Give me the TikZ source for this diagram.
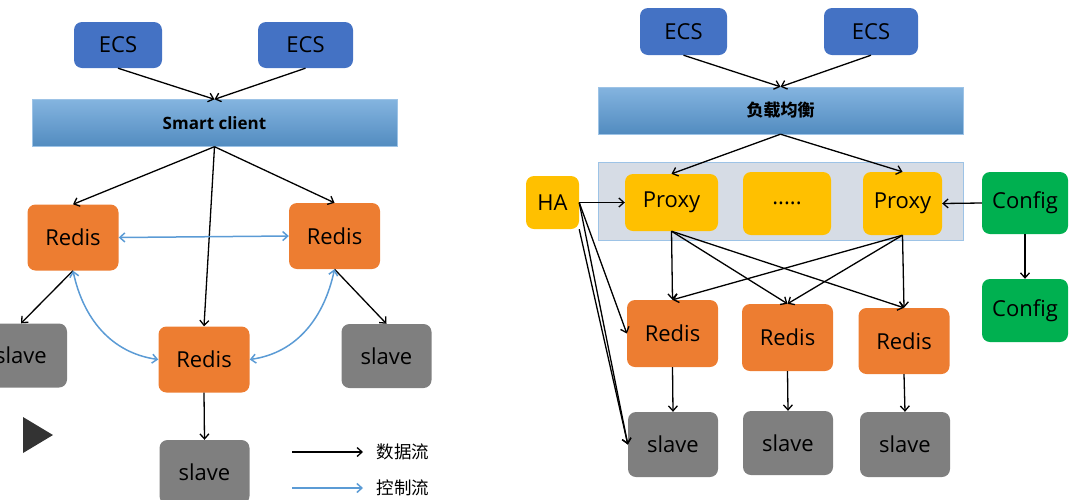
\documentclass[tikz,border=0pt]{standalone}
\usepackage{fontspec}
\setmainfont{Open Sans}
\newfontfamily\cjk{Noto Sans CJK SC}
\usepackage{tikz}
\usetikzlibrary{positioning,arrows.meta}
\usepackage{xcolor}
\definecolor{ecsblue}{HTML}{4472C4}
\definecolor{redisorange}{HTML}{ED7D31}
\definecolor{slavegray}{HTML}{7F7F7F}
\definecolor{proxyyellow}{HTML}{FFC000}
\definecolor{cfggreen}{HTML}{00B050}
\definecolor{ctrlblue}{HTML}{5B9BD5}
\definecolor{poolfill}{HTML}{D6DCE5}
\definecolor{poolline}{HTML}{9DC3E6}

\begin{document}
\begin{tikzpicture}[x=1pt,y=-1pt,
box/.style={rectangle,rounded corners=8pt,align=center,font=\fontsize{22}{26}\selectfont,inner sep=0pt},
ecs/.style={box,fill=ecsblue},
redis/.style={box,fill=redisorange,minimum width=91pt,minimum height=66pt},
slave/.style={box,fill=slavegray,minimum width=90pt,minimum height=64pt},
proxy/.style={box,fill=proxyyellow},
config/.style={box,fill=cfggreen,minimum width=86pt,minimum height=62pt},
bar/.style={rectangle,top color=ctrlblue!75!white,bottom color=ctrlblue!90!black,draw=ctrlblue!60!white,minimum width=365pt,minimum height=47pt,font=\fontsize{17}{20}\selectfont\bfseries},
arrow/.style={-{Straight Barb[length=5pt,width=9pt]},line width=1.3pt},
ctrl/.style={{Straight Barb[length=5pt,width=9pt]}-{Straight Barb[length=5pt,width=9pt]},line width=1.5pt,ctrlblue}
]
\useasboundingbox (0,0) rectangle (1084,499);

\node[ecs,minimum width=88pt,minimum height=46pt] (ecsA) at (118,45) {ECS};
\node[ecs,minimum width=95pt,minimum height=46pt] (ecsB) at (305.5,45) {ECS};
\node[bar] (client) at (214.5,123) {Smart client};
\node[redis] (redisL) at (73,237.5) {Redis};
\node[redis] (redisR) at (334.5,236) {Redis};
\node[redis] (redisC) at (204,359.5) {Redis};
\node[slave,minimum width=92pt] (slaveL) at (21,355.5) {slave};
\node[slave] (slaveR) at (386.5,356) {slave};
\node[slave] (slaveC) at (204.5,472) {slave};
\fill[black!80] (23,417) -- (23,453) -- (53,435) -- cycle;

\draw[arrow] (ecsA.south)--(client.north);
\draw[arrow] (ecsB.south)--(client.north);
\draw[arrow] (client.south)--(redisL.north);
\draw[arrow] (client.south)--(redisR.north);
\draw[arrow] (client.south)--(redisC.north);
\draw[arrow] (redisL.south)--(slaveL.north);
\draw[arrow] (redisR.south)--(slaveR.north);
\draw[arrow] (redisC.south)--(slaveC.north);
\draw[ctrl] (redisL.east)--(redisR.west);
\draw[ctrl] (redisL.south) to[out=-78,in=172] (redisC.west);
\draw[ctrl] (redisR.south) to[out=-102,in=8] (redisC.east);

\coordinate (dataA) at (292,452);
\coordinate (dataB) at (363,452);
\coordinate (ctrlA) at (292,488);
\coordinate (ctrlB) at (363,488);
\draw[arrow] (dataA)--(dataB);
\draw[ctrl,-{Straight Barb[length=5pt,width=9pt]}] (ctrlA)--(ctrlB);
\node[font=\cjk\fontsize{17.5}{20}\selectfont,right=10pt of dataB] (dataTxt) {数据流};
\node[font=\cjk\fontsize{17.5}{20}\selectfont,right=10pt of ctrlB] (ctrlTxt) {控制流};

\node[ecs,minimum width=87pt,minimum height=47pt] (ecsC) at (683.5,31.5) {ECS};
\node[ecs,minimum width=94pt,minimum height=47pt] (ecsD) at (871,31.5) {ECS};
\node[bar,font=\cjk\fontsize{17}{20}\selectfont\bfseries] (lb) at (780.5,110.5) {负载均衡};
\node[rectangle,fill=poolfill,draw=poolline,minimum width=365pt,minimum height=78pt] (pool) at (780.5,201) {};
\node[proxy,minimum width=53pt,minimum height=53pt] (ha) at (552.5,202.5) {HA};
\node[proxy,minimum width=93pt,minimum height=57pt] (proxyA) at (671.5,202.5) {Proxy};
\node[proxy,minimum width=88pt,minimum height=63pt] (dots) at (787,203.5) {.....};
\node[proxy,minimum width=79pt,minimum height=63pt] (proxyB) at (902.5,203.5) {Proxy};
\node[config] (cfgA) at (1025,203) {Config};
\node[config,minimum height=63pt] (cfgB) at (1025,310.5) {Config};
\node[redis,minimum height=67pt] (redisA) at (672.5,333.5) {Redis};
\node[redis,minimum height=67pt] (redisB) at (787.5,337.5) {Redis};
\node[redis] (redisD) at (904,341) {Redis};
\node[slave,minimum height=65pt] (slaveA) at (673,444.5) {slave};
\node[slave] (slaveB) at (788,443) {slave};
\node[slave,minimum height=65pt] (slaveD) at (905,444.5) {slave};

\draw[arrow] (ecsC.south)--(lb.north);
\draw[arrow] (ecsD.south)--(lb.north);
\draw[arrow] (lb.south)--(proxyA.north);
\draw[arrow] (lb.south)--(proxyB.north);
\draw[arrow] (ha.east)--(proxyA.west);
\draw[arrow] (cfgA.west)--(proxyB.east);
\draw[arrow] (cfgA.south)--(cfgB.north);
\draw[arrow] (proxyA.south)--(redisA.north);
\draw[arrow] (proxyA.south)--(redisB.north);
\draw[arrow] (proxyA.south)--(redisD.north);
\draw[arrow] (proxyB.south)--(redisA.north);
\draw[arrow] (proxyB.south)--(redisB.north);
\draw[arrow] (proxyB.south)--(redisD.north);
\draw[arrow] (ha.east)--(redisA.west);
\draw[arrow] (ha.east)--(slaveA.west);
\draw[arrow] (ha.south east)--(slaveA.west);
\draw[arrow] (redisA.south)--(slaveA.north);
\draw[arrow] (redisB.south)--(slaveB.north);
\draw[arrow] (redisD.south)--(slaveD.north);
\end{tikzpicture}
\end{document}
